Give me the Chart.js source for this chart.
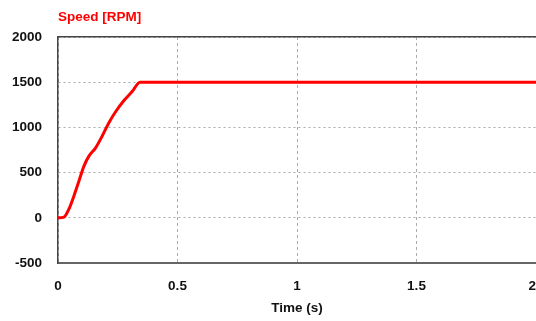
<!DOCTYPE html>
<html>
<head>
<meta charset="utf-8">
<script src="https://cdn.jsdelivr.net/npm/chart.js@4/dist/chart.umd.min.js"></script>
<style>
  html, body { margin: 0; padding: 0; background: #fff; }
  #wrap { width: 536px; height: 321px; }
</style>
</head>
<body>
<div id="wrap"><canvas id="speedChart"></canvas></div>
<script>
// speed response
const timeS = [0, 0.025, 0.046, 0.067, 0.088, 0.109, 0.130, 0.158, 0.185, 0.213, 0.241, 0.276, 0.311, 0.343, 2];
const speedRpm = [0, 8, 99, 245, 410, 575, 685, 777, 905, 1052, 1173, 1297, 1399, 1500, 1500];
const xTicks = [0, 0.5, 1, 1.5, 2];
const yTicks = [-500, 0, 500, 1000, 1500, 2000];

const fontFam = "'Liberation Sans', Arial, sans-serif";
const tickFont = { family: fontFam, size: 13.5, weight: 'bold' };

const points = timeS.map((t, i) => ({ x: t, y: speedRpm[i] }));

const ctx = document.getElementById('speedChart').getContext('2d');
new Chart(ctx, {
    type: 'line',
    data: {
        datasets: [
            {
                label: 'Speed [RPM]',
                data: points,
                borderColor: '#ff0000',
                borderWidth: 3,
                pointRadius: 0,
                cubicInterpolationMode: 'monotone',
                fill: false
            }
        ]
    },
    options: {
        responsive: true,
        maintainAspectRatio: false,
        animation: false,
        layout: { padding: 0 },
        plugins: {
            legend: { display: false },
            tooltip: { enabled: false },
            title: {
                display: true,
                text: 'Speed [RPM]',
                color: '#ff0000',
                align: 'start',
                fullSize: false,
                font: tickFont,
                padding: { top: 9, bottom: 11.8 }
            }
        },
        scales: {
            x: {
                type: 'linear',
                min: xTicks[0],
                max: xTicks[xTicks.length - 1],
                afterBuildTicks: axis => { axis.ticks = xTicks.map(v => ({ value: v })); },
                afterFit: axis => { axis.height = 58; axis.paddingLeft = 0; axis.paddingRight = 0; },
                ticks: {
                    color: '#111',
                    font: tickFont,
                    padding: 15,
                    maxRotation: 0,
                    // last label sits at the canvas edge, nudge it inwards a little
                    callback: v => v === xTicks[xTicks.length - 1] ? String(v) + '  ' : String(v)
                },
                grid: { color: '#aaaaaa', lineWidth: 1, drawTicks: false },
                border: { display: true, color: '#666', width: 2, dash: [3, 3] },
                title: {
                    display: true,
                    text: 'Time (s)',
                    color: '#111',
                    font: tickFont,
                    padding: { top: 5, bottom: 5 }
                }
            },
            xTop: {
                type: 'linear',
                position: 'top',
                min: xTicks[0],
                max: xTicks[xTicks.length - 1],
                afterFit: axis => { axis.height = 0; },
                ticks: { display: false },
                grid: { display: false },
                border: { display: true, color: '#444', width: 1.5 }
            },
            y: {
                min: yTicks[0],
                max: yTicks[yTicks.length - 1],
                afterBuildTicks: axis => { axis.ticks = yTicks.map(v => ({ value: v })); },
                afterFit: axis => { axis.width = 58; },
                ticks: { color: '#111', font: tickFont, padding: 16, callback: v => String(v) },
                grid: { color: '#aaaaaa', lineWidth: 1, drawTicks: false },
                border: { display: true, color: '#444', width: 1.5, dash: [2, 3] }
            }
        }
    }
});
</script>
</body>
</html>
